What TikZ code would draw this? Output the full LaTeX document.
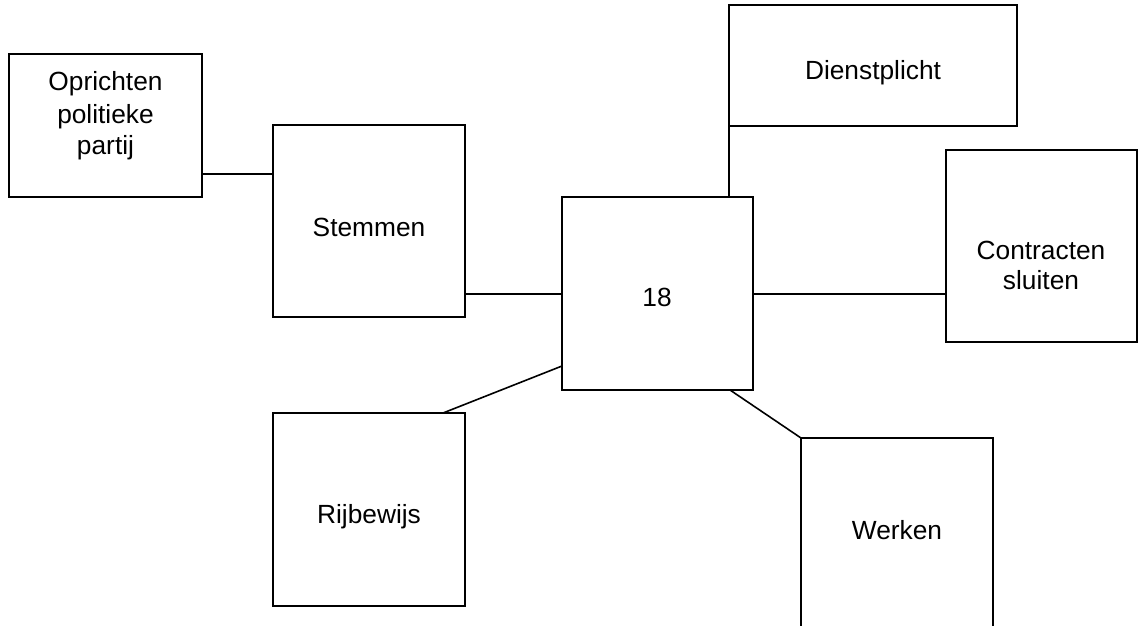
\documentclass[tikz,border=0pt]{standalone}
\usepackage{fontspec}
\setmainfont{Liberation Sans}
\begin{document}
\begin{tikzpicture}[x=1pt,y=-1pt,
  box/.style={draw=black, line width=1.6pt, rectangle, inner sep=0pt, outer sep=0pt},
  conn/.style={draw=black, line width=1.6pt},
  lbl/.style={inner sep=0pt, outer sep=0pt, font=\fontsize{26.3}{31}\selectfont, align=center, anchor=base}]
\fill[white] (0,0) rectangle (1138,626);
\useasboundingbox (0,0) rectangle (1138,626);
\clip (0,0) rectangle (1138,626);
% boxes
\node[box, minimum width=193pt, minimum height=143pt] (opr)  at (105.5,125.5) {};
\node[box, minimum width=192pt, minimum height=192pt] (stem) at (369,221) {};
\node[box, minimum width=191pt, minimum height=193pt] (mid)  at (657.5,293.5) {};
\node[box, minimum width=288pt, minimum height=121pt] (dien) at (873,65.5) {};
\node[box, minimum width=191pt, minimum height=192pt] (con)  at (1041.5,246) {};
\node[box, minimum width=192pt, minimum height=193pt] (rij)  at (369,509.5) {};
\node[box, minimum width=192pt, minimum height=210pt] (werk) at (897,543) {};
% texts
\node[lbl] (toprl1) at (105.5,91) {Oprichten};
\node[lbl] (toprl2) at (105.5,123) {politieke};
\node[lbl] (toprl3) at (105.5,154) {partij};
\node[lbl] (tstem) at (369,236) {Stemmen};
\node[lbl] (tmid) at (657,306) {18};
\node[lbl] (tdien) at (873,79) {Dienstplicht};
\node[lbl] (tcon1) at (1041,259) {Contracten};
\node[lbl] (tcon2) at (1041,289) {sluiten};
\node[lbl] (trij) at (369,523) {Rijbewijs};
\node[lbl] (twerk) at (897,539) {Werken};
% connectors
\draw[conn] ([yshift=23pt]opr.south east) -- ([yshift=23pt]opr.south east -| stem.west);
\draw[conn] ([yshift=23pt]stem.south east) -- ([yshift=23pt]stem.south east -| mid.west);
\draw[conn] ([yshift=-0.5pt]mid.east) -- ([yshift=-0.5pt]mid.east -| con.west);
\draw[conn] (dien.south west) -- (dien.south west |- mid.north);
\draw[conn] ([yshift=24pt]mid.south west) -- ([xshift=-22pt]rij.north east);
\draw[conn] ([xshift=-23pt]mid.south east) -- (werk.north west);
\end{tikzpicture}
\end{document}
